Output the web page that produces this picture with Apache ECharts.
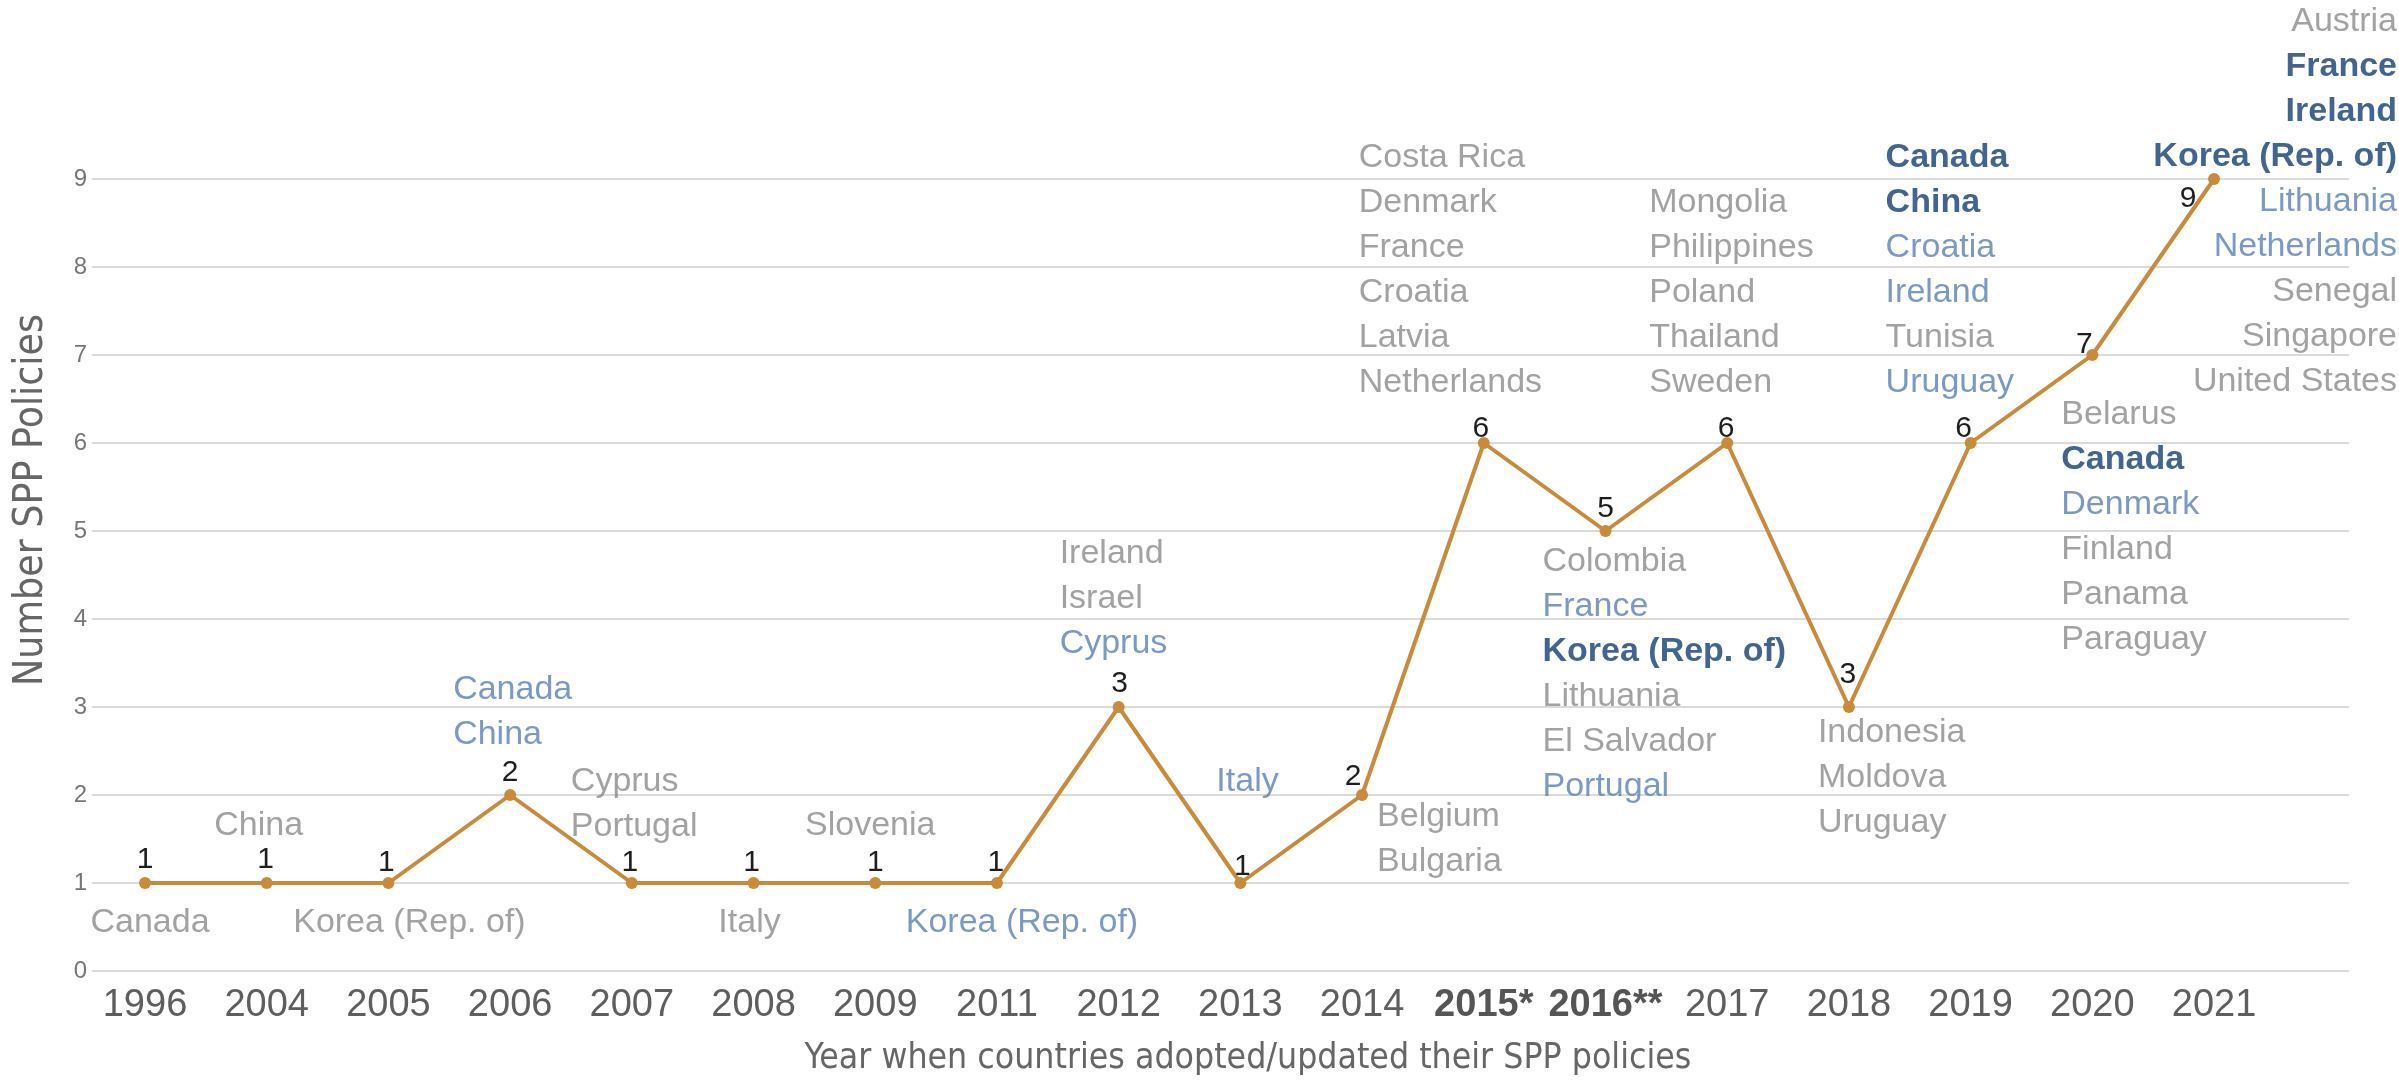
<!DOCTYPE html>
<html><head><meta charset="utf-8">
<script src="https://cdn.jsdelivr.net/npm/echarts@6/dist/echarts.min.js"></script>
<style>html,body{margin:0;padding:0;background:#fff}#chart{width:2399px;height:1091px}</style>
</head><body><div id="chart"></div>
<script>
// ---------------- DATA ----------------
const years = ['1996','2004','2005','2006','2007','2008','2009','2011','2012','2013','2014','2015*','2016**','2017','2018','2019','2020','2021'];
const boldYears = ['2015*','2016**'];
const policyCounts = [1,1,1,2,1,1,1,1,3,1,2,6,5,6,3,6,7,9];
const yTicks = [0,1,2,3,4,5,6,7,8,9];
// g = grey, l = light blue, d = dark blue
const countries = [
  [['Canada','g']],
  [['China','g']],
  [['Korea (Rep. of)','g']],
  [['Canada','l'],['China','l']],
  [['Cyprus','g'],['Portugal','g']],
  [['Italy','g']],
  [['Slovenia','g']],
  [['Korea (Rep. of)','l']],
  [['Ireland','g'],['Israel','g'],['Cyprus','l']],
  [['Italy','l']],
  [['Belgium','g'],['Bulgaria','g']],
  [['Costa Rica','g'],['Denmark','g'],['France','g'],['Croatia','g'],['Latvia','g'],['Netherlands','g']],
  [['Colombia','g'],['France','l'],['Korea (Rep. of)','d'],['Lithuania','g'],['El Salvador','g'],['Portugal','l']],
  [['Mongolia','g'],['Philippines','g'],['Poland','g'],['Thailand','g'],['Sweden','g']],
  [['Indonesia','g'],['Moldova','g'],['Uruguay','g']],
  [['Canada','d'],['China','d'],['Croatia','l'],['Ireland','l'],['Tunisia','g'],['Uruguay','l']],
  [['Belarus','g'],['Canada','d'],['Denmark','l'],['Finland','g'],['Panama','g'],['Paraguay','g']],
  [['Austria','g'],['France','d'],['Ireland','d'],['Korea (Rep. of)','d'],['Lithuania','l'],['Netherlands','l'],['Senegal','g'],['Singapore','g'],['United States','g']]
];
const yTitle = 'Number SPP Policies';
const xTitle = 'Year when countries adopted/updated their SPP policies';

// ---------------- LAYOUT (label placement) ----------------
const countryLayout = [
  ['center', 5, 17.5], ['center', -8, -79.5], ['center', 21, 17.5], ['left', -57, -127.5],
  ['left', -61, -123.5], ['center', -4, 17.5], ['center', -5, -79.5], ['center', 25, 17.5],
  ['left', -59, -175.5], ['left', -24, -123.5], ['left', 15, -0.5], ['left', -125, -307.5],
  ['left', -63, 8.5], ['left', -78, -262.5], ['left', -31, 3.5], ['left', -85, -307.5],
  ['left', -31, 37.5], ['right', 183, -179.5]
];
const numberLayout = [
  [0,-23],[-1,-23],[-2,-20],[0,-22],[-2,-20],[-2,-20],[0,-20],[-1,-20],[1,-23],[2,-16],
  [-9,-18],[-3,-14],[0,-22],[-1,-14],[-1,-32],[-7,-14],[-8,-10],[-26,20]
];

const MAIN = "'Liberation Sans', Arial, sans-serif";
function hasFont(name) {
  const c = document.createElement('canvas').getContext('2d');
  const t = 'abcdefghijklmnopqrstuvwxyzABCDEFGHIJ0123456789';
  c.font = '40px monospace'; const w1 = c.measureText(t).width;
  c.font = '40px "' + name + '", monospace'; const w2 = c.measureText(t).width;
  return Math.abs(w1 - w2) > 0.5;
}
const condName = ['Liberation Sans Narrow', 'DejaVu Sans Condensed', 'Roboto Condensed', 'Open Sans Condensed'].find(hasFont);
const COND = condName ? "'" + condName + "', " + MAIN : MAIN;
function fitSize(text, family, target) {
  const c = document.createElement('canvas').getContext('2d');
  c.font = '100px ' + family;
  return Math.round(100 * target / c.measureText(text).width * 10) / 10;
}
const yTitleSize = Math.min(46, fitSize(yTitle, COND, 372));
const xTitleSize = Math.min(48, fitSize(xTitle, COND, 887));

const rich = {
  g: {color: '#8b8b8b', fontSize: 34, lineHeight: 45, fontFamily: MAIN},
  l: {color: '#5a7fb7', fontSize: 34, lineHeight: 45, fontFamily: MAIN},
  d: {color: '#123f74', fontSize: 34, lineHeight: 45, fontFamily: MAIN, fontWeight: 'bold'}
};

const lineData = policyCounts.map((v, i) => ({
  value: [i, v],
  label: {offset: numberLayout[i]}
}));
const countryData = policyCounts.map((v, i) => ({
  value: [i, v],
  label: {
    show: true, position: 'inside',
    align: countryLayout[i][0], verticalAlign: 'top',
    offset: [countryLayout[i][1], countryLayout[i][2]],
    formatter: countries[i].map(c => '{' + c[1] + '|' + c[0] + '}').join('\n'),
    rich: rich, textBorderWidth: 0
  }
}));

const chart = echarts.init(document.getElementById('chart'), null, {renderer: 'canvas'});
chart.setOption({
  animation: false,
  backgroundColor: '#ffffff',
  grid: {left: 92, right: 50, top: 179, bottom: 120, containLabel: false},
  xAxis: {
    type: 'value', min: -0.4355, max: 18.109,
    axisLine: {show: false}, axisTick: {show: false}, splitLine: {show: false},
    axisLabel: {
      customValues: years.map((_, i) => i),
      margin: 16, fontSize: 38, color: '#5e5e5e', fontFamily: MAIN,
      formatter: v => { const y = years[Math.round(v)]; return boldYears.includes(y) ? '{b|' + y + '}' : y; },
      rich: {b: {fontWeight: 'bold', fontSize: 38, color: '#555555', fontFamily: MAIN}}
    },
    name: xTitle, nameLocation: 'middle', nameGap: 70,
    nameTextStyle: {fontFamily: COND, fontSize: xTitleSize, color: '#666666', padding: [0, 0, 0, 55]}
  },
  yAxis: {
    type: 'value', min: yTicks[0], max: yTicks[yTicks.length - 1], interval: 1,
    axisLine: {show: false}, axisTick: {show: false},
    axisLabel: {margin: 5, fontSize: 24, color: '#777777', fontFamily: MAIN},
    splitLine: {lineStyle: {color: '#dadada', width: 2}},
    name: yTitle, nameLocation: 'middle', nameGap: 40,
    nameTextStyle: {fontFamily: COND, fontSize: yTitleSize, color: '#666666', padding: [0, 0, 0, 150]}
  },
  series: [
    {
      type: 'line', data: lineData, silent: true,
      symbol: 'circle', symbolSize: 12, showSymbol: true,
      lineStyle: {color: '#c98b3b', width: 4},
      itemStyle: {color: '#c98b3b'},
      label: {show: true, position: 'inside', formatter: p => p.value[1],
        color: '#1e1e1e', fontSize: 30, fontFamily: MAIN, textBorderWidth: 0},
      z: 3
    },
    {
      type: 'scatter', data: countryData, silent: true,
      symbolSize: 1, itemStyle: {color: 'rgba(0,0,0,0)'},
      z: 4
    }
  ]
});
</script>
</body></html>
